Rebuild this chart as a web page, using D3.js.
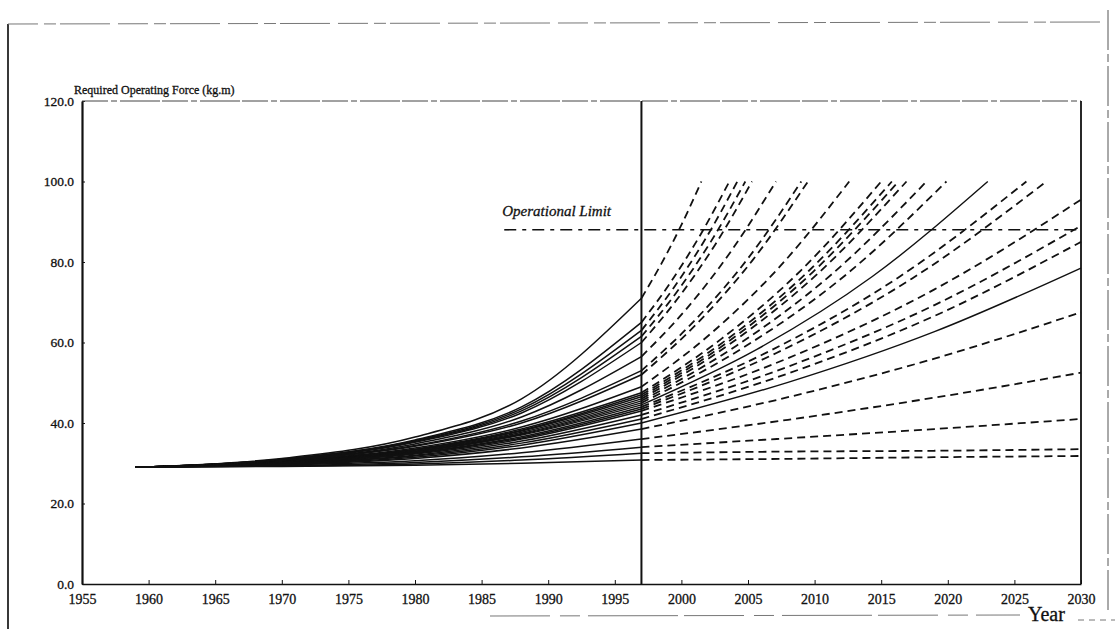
<!DOCTYPE html>
<html>
<head>
<meta charset="utf-8">
<script src="https://cdn.jsdelivr.net/npm/d3@7"></script>
<style>
  body { margin: 0; background: #fff; }
  svg text { font-family: "Liberation Serif", "Times New Roman", serif; fill: #111; stroke: #111; stroke-width: 0.3px; }
</style>
</head>
<body>
<svg id="chart"></svg>
<script>
// history points (all curves start at 29 in 1959)
const histYears = [1959, 1970, 1980, 1988, 1997];
const startValue = 29;
const v1970 = [31.2, 31.0, 31.0, 30.9, 30.8, 30.7, 30.6, 30.6, 30.5, 30.4, 30.4, 30.3, 30.3, 30.3, 30.2, 30.2, 30.1, 30.1, 30.0, 30.0, 29.9, 29.8, 29.7, 29.6, 29.4, 29.3, 29.2];
const v1980 = [36.5, 35.8, 35.6, 35.4, 35.2, 34.8, 34.4, 34.2, 33.8, 33.5, 33.4, 33.3, 33.2, 33.0, 32.9, 32.8, 32.6, 32.5, 32.3, 32.0, 31.8, 31.5, 31.2, 30.6, 30.2, 29.8, 29.5];
const v1988 = [46.0, 44.0, 43.5, 43.0, 42.5, 41.5, 40.5, 40.0, 39.0, 38.5, 38.2, 38.0, 37.7, 37.4, 37.2, 37.0, 36.6, 36.3, 36.0, 35.5, 35.0, 34.5, 33.8, 32.6, 31.6, 30.8, 30.0];
const v1997 = [71.0, 65.0, 63.0, 61.5, 60.0, 56.5, 53.0, 52.0, 49.0, 47.5, 47.0, 46.5, 46.0, 45.5, 45.0, 44.5, 44.0, 43.5, 43.0, 42.0, 41.0, 40.0, 38.5, 36.0, 34.0, 32.5, 30.8];

// projections after 1997: two intermediate readings and the end point
const projQ1 = [79.6, 75.0, 73.5, 72.3, 71.1, 68.3, 65.5, 64.7, 62.2, 60.9, 60.4, 60.0, 59.6, 59.2, 58.7, 58.3, 57.9, 57.4, 56.1, 54.0, 52.3, 50.1, 46.4, 40.8, 36.2, 32.9, 31.1];
const projQ2 = [89.2, 86.6, 85.7, 85.0, 84.3, 82.7, 80.9, 80.4, 78.9, 78.0, 77.7, 77.5, 77.2, 76.9, 76.6, 76.4, 76.1, 75.8, 73.2, 69.3, 66.6, 62.7, 56.0, 46.3, 38.5, 33.1, 31.5];
const endYear = [2001.5, 2003.6, 2004.2, 2004.8, 2005.3, 2007.1, 2009.0, 2009.5, 2012.6, 2015.0, 2015.8, 2016.3, 2016.9, 2018.4, 2019.9, 2023.0, 2025.9, 2027.4, 2030, 2030, 2030, 2030, 2030, 2030, 2030, 2030, 2030];
const endValue = [100, 100, 100, 100, 100, 100, 100, 100, 100, 100, 100, 100, 100, 100, 100, 100, 100, 100, 95.5, 89, 85, 78.5, 67.5, 52.5, 41, 33.5, 31.8];
const projSolid = [16, 22]; // curve numbers (1-based) drawn solid after 1997

const limitValue = 88;
const limitFrom = 1986.7;
const nowYear = 1997;
const xTicks = d3.range(1955, 2031, 5);
const yTicks = [0, 20, 40, 60, 80, 100, 120];

const W = 1115, H = 629;
const svg = d3.select('#chart').attr('width', W).attr('height', H);

const x = d3.scaleLinear().domain([1955, 2030]).range([82, 1081]);
const y = d3.scaleLinear().domain([0, 120]).range([584, 101]);

// scan frame
const frame = svg.append('g').attr('fill', 'none').attr('stroke', '#222');
frame.append('line').attr('x1', 8).attr('y1', 24).attr('x2', 8).attr('y2', 629).attr('stroke-width', 1.8);
frame.append('line').attr('x1', 8).attr('y1', 24).attr('x2', 1108).attr('y2', 22)
  .attr('stroke', '#777').attr('stroke-dasharray', '30,6,12,4,50,8');
frame.append('line').attr('x1', 1108).attr('y1', 10).attr('x2', 1108).attr('y2', 610)
  .attr('stroke', '#555').attr('stroke-dasharray', '40,4,8,4');
frame.append('line').attr('x1', 490).attr('y1', 616).attr('x2', 1020).attr('y2', 615)
  .attr('stroke', '#777').attr('stroke-dasharray', '60,10,20,8,90,6');
frame.append('line').attr('x1', 1078).attr('y1', 620).attr('x2', 1115).attr('y2', 620)
  .attr('stroke', '#777').attr('stroke-dasharray', '6,5');

// axes
const xAxis = d3.axisBottom(x).tickValues(xTicks).tickSize(-4).tickSizeOuter(0).tickFormat(d3.format('d'));
const gx = svg.append('g').attr('transform', `translate(0,${y(0)})`).call(xAxis);
gx.select('.domain').attr('stroke', '#111').attr('stroke-width', 1.5);
gx.selectAll('.tick line').attr('stroke', '#111');
gx.selectAll('.tick text').attr('y', 10).attr('font-size', 14)
  .attr('font-family', '"Liberation Serif", serif');

const yAxis = d3.axisLeft(y).tickValues(yTicks).tickSize(-3).tickSizeOuter(0).tickFormat(d3.format('.1f'));
const gy = svg.append('g').attr('transform', `translate(${x(1955)},0)`).call(yAxis);
gy.select('.domain').attr('stroke', '#111').attr('stroke-width', 2.2);
gy.selectAll('.tick line').attr('stroke', '#111');
gy.selectAll('.tick text').attr('x', -8).attr('font-size', 13.5)
  .attr('font-family', '"Liberation Serif", serif');

// top and right borders
svg.append('line').attr('x1', x(1955)).attr('x2', x(2030)).attr('y1', y(120)).attr('y2', y(120))
  .attr('stroke', '#444').attr('stroke-dasharray', '26,3,6,3,40,2');
svg.append('line').attr('x1', x(2030)).attr('x2', x(2030)).attr('y1', y(120)).attr('y2', y(0))
  .attr('stroke', '#111').attr('stroke-width', 1.8);

// 1997 divider
svg.append('line').attr('x1', x(nowYear)).attr('x2', x(nowYear)).attr('y1', y(120)).attr('y2', y(0))
  .attr('stroke', '#111').attr('stroke-width', 2);

const line = d3.line().x(d => x(d[0])).y(d => y(d[1])).curve(d3.curveMonotoneX);

const curves = v1997.map((v, i) => {
  const span = endYear[i] - nowYear;
  return {
    hist: [[histYears[0], startValue], [histYears[1], v1970[i]], [histYears[2], v1980[i]], [histYears[3], v1988[i]], [histYears[4], v]],
    proj: [[nowYear, v], [nowYear + span / 3, projQ1[i]], [nowYear + 2 * span / 3, projQ2[i]], [endYear[i], endValue[i]]],
    solid: projSolid.includes(i + 1)
  };
});

const gc = svg.append('g').attr('fill', 'none').attr('stroke', '#111');
gc.selectAll('path.hist').data(curves).join('path')
  .attr('class', 'hist')
  .attr('d', d => line(d.hist))
  .attr('stroke-width', 1.5);
gc.selectAll('path.proj').data(curves).join('path')
  .attr('class', 'proj')
  .attr('d', d => line(d.proj))
  .attr('stroke-width', d => d.solid ? 1.4 : 1.8)
  .attr('stroke-dasharray', d => d.solid ? null : '8,5');

// operational limit
svg.append('line').attr('x1', x(limitFrom)).attr('x2', x(2030)).attr('y1', y(limitValue)).attr('y2', y(limitValue))
  .attr('stroke', '#111').attr('stroke-width', 1.6).attr('stroke-dasharray', '12,6,4,6');
svg.append('text').attr('x', x(limitFrom) - 2).attr('y', y(limitValue) - 14)
  .attr('font-size', 15).attr('font-style', 'italic').text('Operational Limit');

// labels
svg.append('text').attr('x', 74).attr('y', 94).attr('font-size', 12).text('Required Operating Force (kg.m)');
svg.append('text').attr('x', 1028).attr('y', 621).attr('font-size', 20).text('Year');
</script>
</body>
</html>
